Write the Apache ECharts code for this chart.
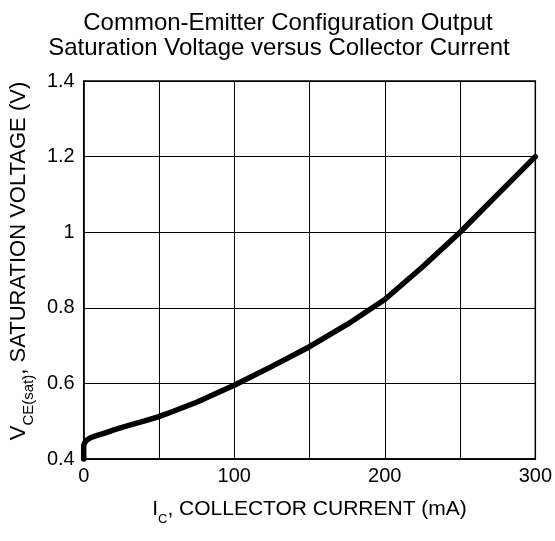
<!DOCTYPE html>
<html>
<head>
<meta charset="utf-8">
<script src="https://cdn.jsdelivr.net/npm/echarts@6/dist/echarts.min.js"></script>
<style>html,body{margin:0;padding:0;background:#fff}#c{width:555px;height:541px}</style>
</head>
<body>
<div id="c"></div>
<script>
// Collector current (mA)
const currentMA = [0, 0, 0.5, 1, 2, 3, 5, 7, 10, 15, 20, 30, 40, 50, 60, 75, 90, 100, 125, 150, 175, 200, 225, 250, 275, 300];
// Saturation voltage (V)
const vceSat = [0.4, 0.435, 0.442, 0.446, 0.450, 0.453, 0.457, 0.460, 0.464, 0.470, 0.477, 0.489, 0.500, 0.512, 0.527, 0.550, 0.577, 0.595, 0.645, 0.697, 0.756, 0.822, 0.908, 1.0, 1.1, 1.2];
const xTickLabels = {0: '0', 100: '100', 200: '200', 300: '300'};
const yTickLabels = {0.4: '0.4', 0.6: '0.6', 0.8: '0.8', 1: '1', 1.2: '1.2', 1.4: '1.4'};

const FONT = 'Liberation Sans, Arial, sans-serif';
const chart = echarts.init(document.getElementById('c'));
chart.setOption({
  animation: false,
  backgroundColor: '#fff',
  title: [
    {text: 'Common-Emitter Configuration Output', left: 283, top: 6, textAlign: 'center',
     textStyle: {fontFamily: FONT, fontSize: 24, fontWeight: 'normal', color: '#000'}},
    {text: 'Saturation Voltage versus Collector Current', left: 274, top: 31, textAlign: 'center',
     textStyle: {fontFamily: FONT, fontSize: 24, fontWeight: 'normal', color: '#000'}}
  ],
  grid: {left: 82, right: 19, top: 81, bottom: 82, show: true, borderColor: '#000', borderWidth: 1.5},
  xAxis: {
    type: 'value', min: 0, max: 300, interval: 50,
    axisLine: {show: true, lineStyle: {color: '#000', width: 1.5}},
    axisTick: {show: false},
    splitLine: {show: true, lineStyle: {color: '#000', width: 1}},
    axisLabel: {fontFamily: FONT, fontSize: 20, color: '#000', margin: 7,
      formatter: v => (xTickLabels[Math.round(v)] !== undefined ? xTickLabels[Math.round(v)] : '')},
    name: '{m|I}{s|C}{m|, COLLECTOR CURRENT (mA)}',
    nameLocation: 'middle', nameGap: 40,
    nameTextStyle: {
      rich: {
        m: {fontFamily: FONT, fontSize: 21, color: '#000'},
        s: {fontFamily: FONT, fontSize: 13, color: '#000', verticalAlign: 'bottom', padding: [0, 0, -6, 0]}
      }
    }
  },
  yAxis: {
    type: 'value', min: 0.4, max: 1.4, interval: 0.2,
    axisLine: {show: true, lineStyle: {color: '#000', width: 1.5}},
    axisTick: {show: false},
    splitLine: {show: true, lineStyle: {color: '#000', width: 1}},
    axisLabel: {fontFamily: FONT, fontSize: 20, color: '#000', margin: 9,
      formatter: v => {const k = Math.round(v * 10) / 10; return yTickLabels[k] !== undefined ? yTickLabels[k] : '';}},
    name: '{m|V}{s|CE(sat)}{m|, SATURATION VOLTAGE (V)}',
    nameLocation: 'middle', nameGap: 49, nameRotate: 90,
    nameTextStyle: {
      padding: [0, 0, 0, 18],
      rich: {
        m: {fontFamily: FONT, fontSize: 22, color: '#000'},
        s: {fontFamily: FONT, fontSize: 15, color: '#000', verticalAlign: 'bottom', padding: [0, 0, -6, 0]}
      }
    }
  },
  series: [{
    type: 'line',
    data: currentMA.map((x, i) => [x, vceSat[i]]),
    showSymbol: false,
    symbol: 'none',
    lineStyle: {color: '#000', width: 5.5, cap: 'round', join: 'round'},
    clip: false
  }]
});
</script>
</body>
</html>
